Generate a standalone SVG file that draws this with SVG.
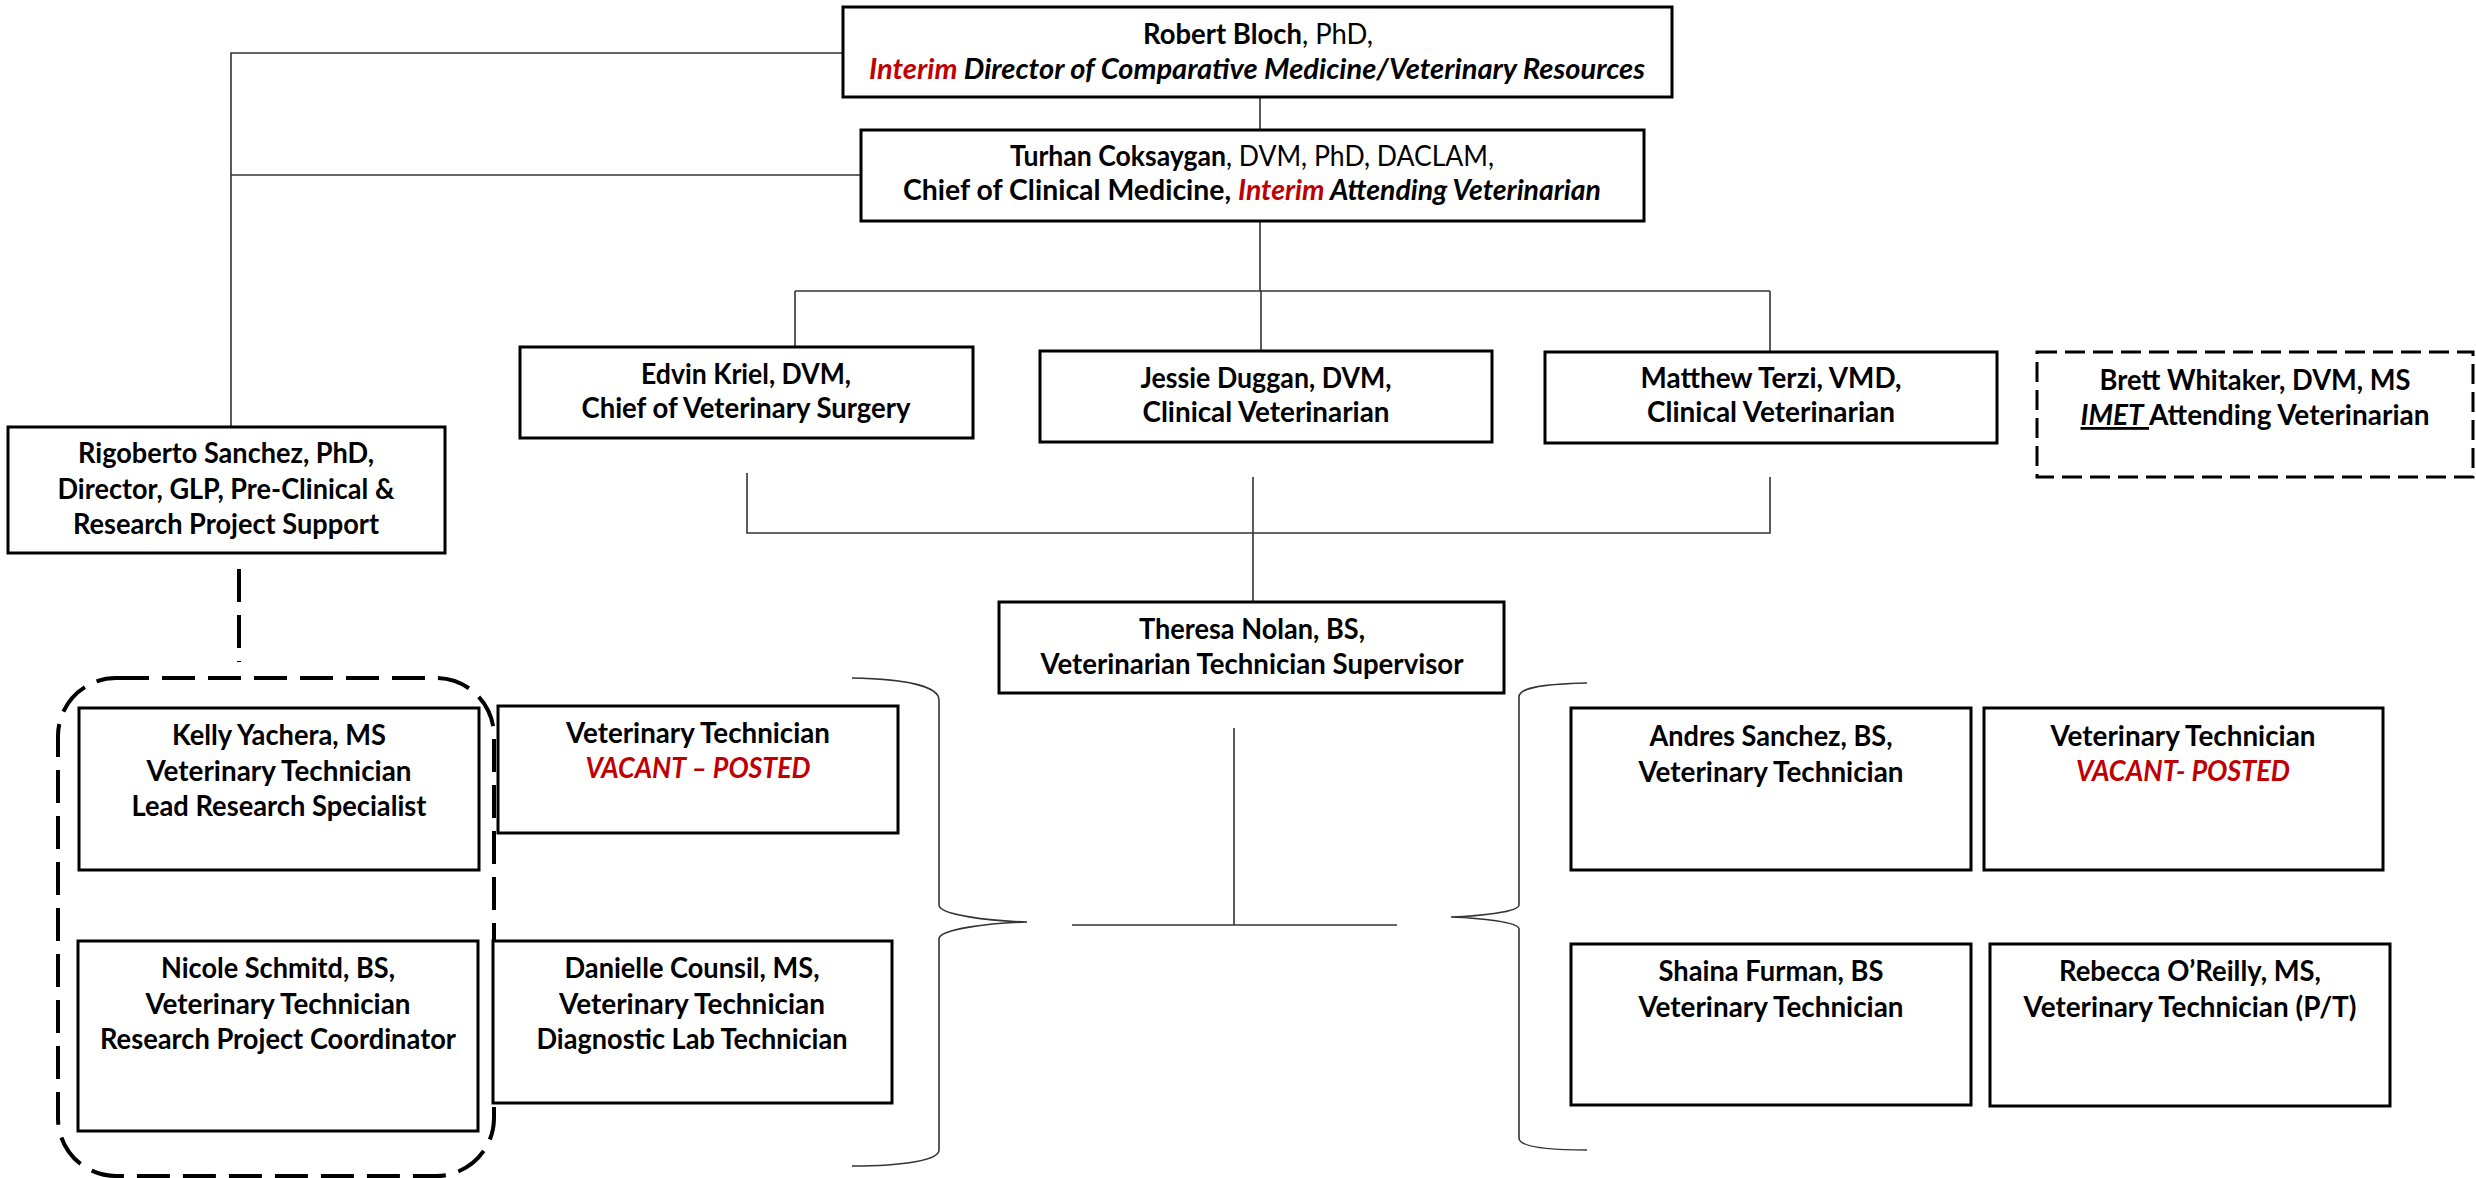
<svg xmlns="http://www.w3.org/2000/svg" width="2476" height="1178" viewBox="0 0 2476 1178">
<style>
.box{fill:#fff;stroke:#000;stroke-width:3}
.dbox{fill:#fff;stroke:#000;stroke-width:3;stroke-dasharray:20 8}
.ln{fill:none;stroke:#333;stroke-width:1.6}
.dash{fill:none;stroke:#000;stroke-width:4;stroke-dasharray:33 13}
.t{font-family:Lato,"Liberation Sans",sans-serif;font-size:28px;font-weight:bold;fill:#000;text-anchor:middle}
.n{font-weight:normal}
.i{font-style:italic}
.r{fill:#C00000}
</style>
<rect x="0" y="0" width="2476" height="1178" fill="#fff"/>
<g id="connectors">
<path class="ln" d="M843,53 H231 V427"/>
<path class="ln" d="M861,175 H231"/>
<path class="ln" d="M1260,97 V130"/>
<path class="ln" d="M1260,221 V291"/>
<path class="ln" d="M795,291 H1770"/>
<path class="ln" d="M795,291 V347 M1261,291 V351 M1770,291 V352"/>
<path class="ln" d="M747,473 V533 H1770 V477 M1253,477 V602"/>
<path class="ln" d="M1234,728 V925 M1072,925 H1397"/>
<path class="ln" d="M852,678 C905,679 939,686 939,700 L939,905 C939,915 990,921 1027,922 C990,923 939,929 939,939 L939,1150 C939,1160 905,1166 852,1166"/>
<path class="ln" d="M1587,683 C1540,684 1519,688 1519,697 L1519,905 C1519,912 1480,916 1451,917 C1480,918 1519,922 1519,929 L1519,1138 C1519,1146 1540,1150 1587,1150"/>
<path class="dash" d="M239,569 V662"/>
</g>
<g id="group-research">
<rect x="58" y="678" width="436" height="498" rx="58" ry="58" class="dash" stroke-dasharray="30 12"/>
</g>
<g id="bloch">
<rect class="box" x="843" y="7" width="829" height="90"/>
<text class="t" x="1258" y="44" textLength="230" lengthAdjust="spacingAndGlyphs">Robert Bloch<tspan class="n">, PhD,</tspan></text>
<text class="t" x="1257" y="79" textLength="776" lengthAdjust="spacingAndGlyphs"><tspan class="i r">Interim</tspan><tspan class="i"> Director of Comparative Medicine/Veterinary Resources</tspan></text>
</g>
<g id="coksaygan">
<rect class="box" x="861" y="130" width="783" height="91"/>
<text class="t" x="1252" y="166" textLength="484" lengthAdjust="spacingAndGlyphs">Turhan Coksaygan<tspan class="n">, DVM, PhD, DACLAM,</tspan></text>
<text class="t" x="1252" y="200" textLength="698" lengthAdjust="spacingAndGlyphs">Chief of Clinical Medicine, <tspan class="i r">Interim</tspan><tspan class="i"> Attending Veterinarian</tspan></text>
</g>
<g id="kriel">
<rect class="box" x="520" y="347" width="453" height="91"/>
<text class="t" x="746" y="384" textLength="210" lengthAdjust="spacingAndGlyphs">Edvin Kriel, DVM,</text>
<text class="t" x="746" y="418" textLength="329" lengthAdjust="spacingAndGlyphs">Chief of Veterinary Surgery</text>
</g>
<g id="duggan">
<rect class="box" x="1040" y="351" width="452" height="91"/>
<text class="t" x="1266" y="388" textLength="251" lengthAdjust="spacingAndGlyphs">Jessie Duggan, DVM,</text>
<text class="t" x="1266" y="422" textLength="247" lengthAdjust="spacingAndGlyphs">Clinical Veterinarian</text>
</g>
<g id="terzi">
<rect class="box" x="1545" y="352" width="452" height="91"/>
<text class="t" x="1771" y="388" textLength="261" lengthAdjust="spacingAndGlyphs">Matthew Terzi, VMD,</text>
<text class="t" x="1771" y="422" textLength="248" lengthAdjust="spacingAndGlyphs">Clinical Veterinarian</text>
</g>
<g id="whitaker">
<rect class="dbox" x="2037" y="352" width="436" height="125"/>
<text class="t" x="2255" y="390" textLength="311" lengthAdjust="spacingAndGlyphs">Brett Whitaker, DVM, MS</text>
<text class="t" x="2255" y="425" textLength="349" lengthAdjust="spacingAndGlyphs"><tspan class="i" text-decoration="underline">IMET </tspan>Attending Veterinarian</text>
</g>
<g id="sanchez-r">
<rect class="box" x="8" y="427" width="437" height="126"/>
<text class="t" x="226" y="463" textLength="296" lengthAdjust="spacingAndGlyphs">Rigoberto Sanchez, PhD,</text>
<text class="t" x="226" y="499" textLength="337" lengthAdjust="spacingAndGlyphs">Director, GLP, Pre-Clinical &amp;</text>
<text class="t" x="226" y="534" textLength="306" lengthAdjust="spacingAndGlyphs">Research Project Support</text>
</g>
<g id="nolan">
<rect class="box" x="999" y="602" width="505" height="91"/>
<text class="t" x="1252" y="639" textLength="226" lengthAdjust="spacingAndGlyphs">Theresa Nolan, BS,</text>
<text class="t" x="1252" y="674" textLength="423" lengthAdjust="spacingAndGlyphs">Veterinarian Technician Supervisor</text>
</g>
<g id="yachera">
<rect class="box" x="79" y="708" width="400" height="162"/>
<text class="t" x="279" y="745" textLength="214" lengthAdjust="spacingAndGlyphs">Kelly Yachera, MS</text>
<text class="t" x="279" y="781" textLength="265" lengthAdjust="spacingAndGlyphs">Veterinary Technician</text>
<text class="t" x="279" y="816" textLength="295" lengthAdjust="spacingAndGlyphs">Lead Research Specialist</text>
</g>
<g id="vacant-left">
<rect class="box" x="498" y="706" width="400" height="127"/>
<text class="t" x="698" y="743" textLength="264" lengthAdjust="spacingAndGlyphs">Veterinary Technician</text>
<text class="t i r" x="698" y="778" textLength="225" lengthAdjust="spacingAndGlyphs">VACANT – POSTED</text>
</g>
<g id="schmitd">
<rect class="box" x="78" y="941" width="400" height="190"/>
<text class="t" x="278" y="978" textLength="234" lengthAdjust="spacingAndGlyphs">Nicole Schmitd, BS,</text>
<text class="t" x="278" y="1014" textLength="265" lengthAdjust="spacingAndGlyphs">Veterinary Technician</text>
<text class="t" x="278" y="1049" textLength="356" lengthAdjust="spacingAndGlyphs">Research Project Coordinator</text>
</g>
<g id="counsil">
<rect class="box" x="493" y="941" width="399" height="162"/>
<text class="t" x="692" y="978" textLength="255" lengthAdjust="spacingAndGlyphs">Danielle Counsil, MS,</text>
<text class="t" x="692" y="1014" textLength="266" lengthAdjust="spacingAndGlyphs">Veterinary Technician</text>
<text class="t" x="692" y="1049" textLength="311" lengthAdjust="spacingAndGlyphs">Diagnostic Lab Technician</text>
</g>
<g id="sanchez-a">
<rect class="box" x="1571" y="708" width="400" height="162"/>
<text class="t" x="1771" y="746" textLength="243" lengthAdjust="spacingAndGlyphs">Andres Sanchez, BS,</text>
<text class="t" x="1771" y="782" textLength="265" lengthAdjust="spacingAndGlyphs">Veterinary Technician</text>
</g>
<g id="vacant-right">
<rect class="box" x="1984" y="708" width="399" height="162"/>
<text class="t" x="2183" y="746" textLength="265" lengthAdjust="spacingAndGlyphs">Veterinary Technician</text>
<text class="t i r" x="2183" y="781" textLength="214" lengthAdjust="spacingAndGlyphs">VACANT- POSTED</text>
</g>
<g id="furman">
<rect class="box" x="1571" y="944" width="400" height="161"/>
<text class="t" x="1771" y="981" textLength="225" lengthAdjust="spacingAndGlyphs">Shaina Furman, BS</text>
<text class="t" x="1771" y="1017" textLength="265" lengthAdjust="spacingAndGlyphs">Veterinary Technician</text>
</g>
<g id="oreilly">
<rect class="box" x="1990" y="944" width="400" height="162"/>
<text class="t" x="2190" y="981" textLength="262" lengthAdjust="spacingAndGlyphs">Rebecca O’Reilly, MS,</text>
<text class="t" x="2190" y="1017" textLength="333" lengthAdjust="spacingAndGlyphs">Veterinary Technician (P/T)</text>
</g>
</svg>
